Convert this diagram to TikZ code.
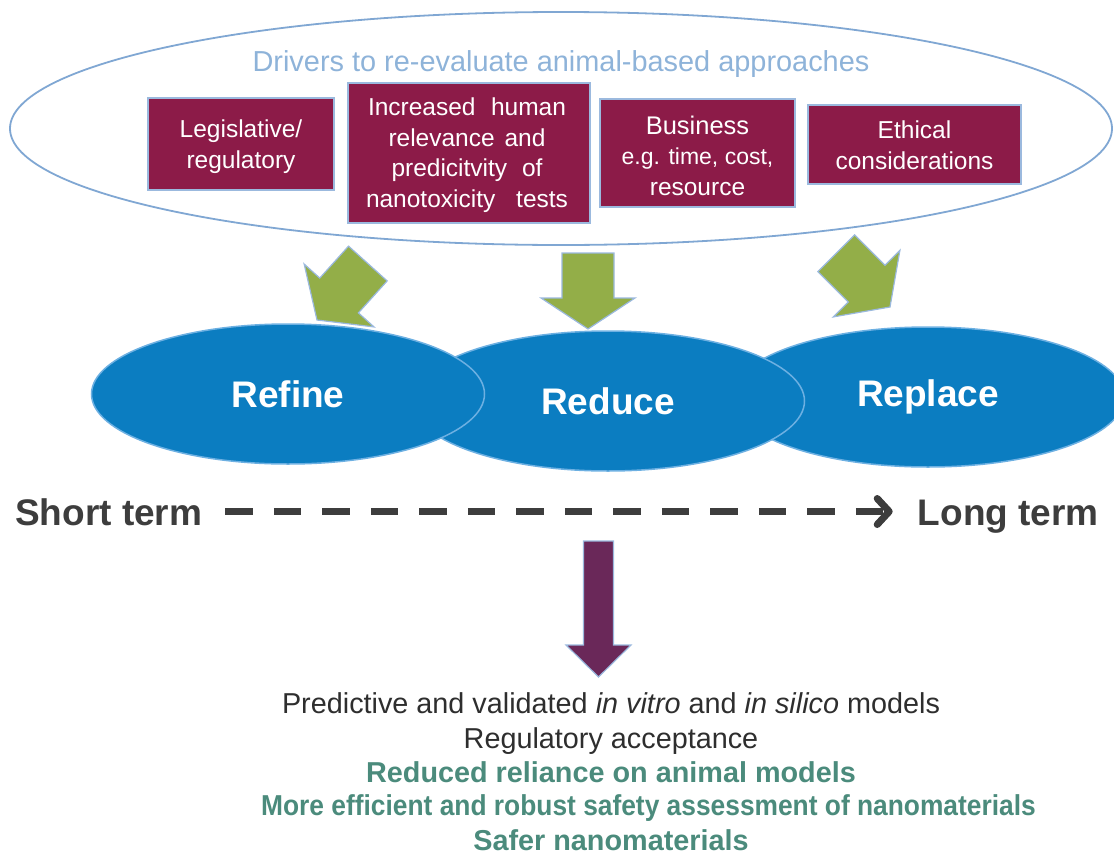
\documentclass[tikz,border=0pt]{standalone}
\usepackage{fontspec}
\setmainfont{Liberation Sans}
\usetikzlibrary{shapes.geometric,arrows.meta}

\definecolor{drvmaroon}{HTML}{8C1B48}
\definecolor{drvedge}{HTML}{9BB9DE}
\definecolor{ringblue}{HTML}{80A7D3}
\definecolor{titleblue}{HTML}{8EB3D9}
\definecolor{leafgreen}{HTML}{93AE48}
\definecolor{rblue}{HTML}{0B7DC1}
\definecolor{rbluelight}{HTML}{6DB0E2}
\definecolor{inkgray}{HTML}{3D3D3D}
\definecolor{bodygray}{HTML}{2E2E2E}
\definecolor{plum}{HTML}{6A2859}
\definecolor{tealgreen}{HTML}{4B8B7C}

\newcommand\setfs[2]{\fontsize{#1}{#2}\selectfont}

\begin{document}
\begin{tikzpicture}[x=1pt,y=-1pt,
  drivebox/.style={rectangle, draw=drvedge, line width=2.2pt, fill=drvmaroon, inner sep=0pt},
  drivetext/.style={text=white, align=center, inner sep=0pt, font=\setfs{24.5}{31}},
  rstage/.style={ellipse, fill=rblue, draw=rbluelight, line width=1.5pt,
    minimum width=393pt, minimum height=140pt, inner sep=0pt,
    text=white, font=\bfseries\setfs{37}{40}},
  greenblock/.style={fill=leafgreen, draw=drvedge, line width=1.2pt},
  plumblock/.style={fill=plum, draw=drvedge, line width=1.2pt},
  termtext/.style={text=inkgray, font=\bfseries\setfs{37}{40}, inner sep=0pt,
    text height=27pt, text depth=0pt},
  termline/.style={draw=inkgray, line width=7pt, dash pattern=on 27.5pt off 21pt,
    -{Straight Barb[length=12pt, width=26pt, round]}},
  outcome/.style={text=bodygray, font=\setfs{28.8}{30}, inner sep=0pt, anchor=base},
  goal/.style={text=tealgreen, font=\bfseries\setfs{28.8}{30}, inner sep=0pt, anchor=base}
]
\useasboundingbox (0,0) rectangle (1114,854);

% drivers ring and heading
\node[ellipse, draw=ringblue, line width=1.8pt, minimum width=1102pt,
      minimum height=233pt, inner sep=0pt] (drivers) at (561,128.5) {};
\node[text=titleblue, font=\setfs{28.9}{30}, inner sep=0pt, anchor=base]
      (heading) at (561,71) {Drivers to re-evaluate animal-based approaches};

% the four drivers
\node[drivebox, minimum width=186pt, minimum height=92pt] (legal) at (241,144) {};
\node[drivetext] (legaltxt) at (241,147) {Legislative/\\regulatory};

\node[drivebox, minimum width=242pt, minimum height=140pt] (human) at (469,153) {};
\node[drivetext, font=\setfs{24.5}{30.5}] (humantxt) at (467,155)
  {\makebox[198pt][s]{Increased human}\\
   \makebox[157pt][s]{relevance and}\\
   \makebox[151pt][s]{predicitvity of}\\
   \makebox[202pt][s]{nanotoxicity tests}};

\node[drivebox, minimum width=195pt, minimum height=108pt] (business) at (697.5,153) {};
\node[drivetext] (businesstxt) at (697.5,156)
  {\setfs{25.5}{30}Business\\[-1pt]
   \setfs{23}{26}e.g. time, cost,\\
   resource};

\node[drivebox, minimum width=213pt, minimum height=79pt] (ethics) at (914.5,144.5) {};
\node[drivetext] (ethicstxt) at (914.5,145) {Ethical\\considerations};

% green block arrows, tip at the origin of each scope
\begin{scope}[shift={(317,320)}, rotate=-132]
  \draw[greenblock] (0,0) -- (-33,47) -- (-33,26) -- (-76,26) -- (-76,-26)
    -- (-33,-26) -- (-33,-47) -- cycle;
\end{scope}
\begin{scope}[shift={(588,329)}, rotate=-90]
  \draw[greenblock] (0,0) -- (-31,47) -- (-31,26) -- (-76,26) -- (-76,-26)
    -- (-31,-26) -- (-31,-47) -- cycle;
\end{scope}
\begin{scope}[shift={(890,307)}, rotate=-45]
  \draw[greenblock] (0,0) -- (-33,47) -- (-33,26) -- (-76,26) -- (-76,-26)
    -- (-33,-26) -- (-33,-47) -- cycle;
\end{scope}

% the three Rs
\node[rstage] (replace) at (928,397) {Replace};
\node[rstage] (reduce) at (608,401) {Reduce};
\node[rstage] (refine) at (288,394) {Refine};

% time line
\node[termtext, anchor=west] (short) at (15,511.5) {Short term};
\node[termtext, anchor=east] (long) at (1099,511.5) {Long term};
\draw[termline, shorten <=23pt, shorten >=25pt] (short) -- (long);

% outcome arrow
\begin{scope}[shift={(598.5,677)}, rotate=-90]
  \draw[plumblock] (0,0) -- (-32,32.5) -- (-32,15) -- (-136,15) -- (-136,-15)
    -- (-32,-15) -- (-32,-32.5) -- cycle;
\end{scope}

% outcomes
\node[outcome] (models) at (611,713)
  {Predictive and validated \textit{in vitro} and \textit{in silico} models};
\node[outcome] (accept) at (611,748) {Regulatory acceptance};
\node[goal] (reliance) at (611,782) {Reduced reliance on animal models};
\node[goal] (efficient) at (648.5,815)
  {\scalebox{0.915}[1]{More efficient and robust safety assessment of nanomaterials}};
\node[goal] (safer) at (611,850) {Safer nanomaterials};
\end{tikzpicture}
\end{document}
